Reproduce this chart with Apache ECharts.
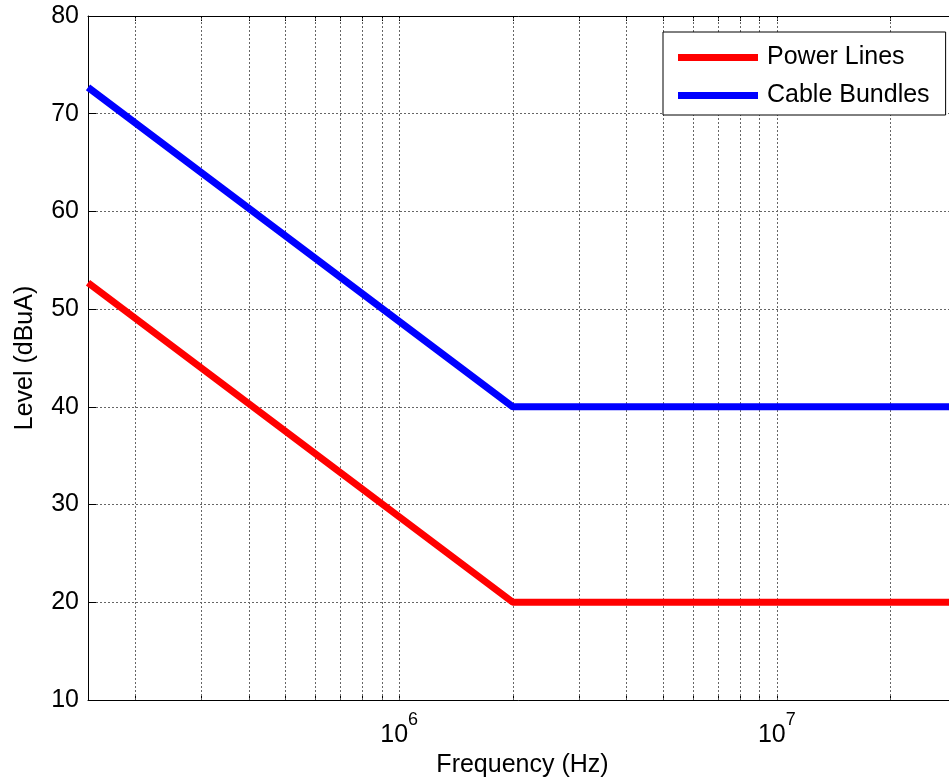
<!DOCTYPE html>
<html>
<head>
<meta charset="utf-8">
<script src="https://cdn.jsdelivr.net/npm/echarts@6/dist/echarts.min.js"></script>
<style>
html,body{margin:0;padding:0;background:#fff;}
#chart{width:949px;height:782px;}
</style>
</head>
<body>
<div id="chart"></div>
<script>
// ---- data ----
var seriesNames = ['Power Lines', 'Cable Bundles'];
var freqPower = [150000, 2000000, 30000000];
var levelPower = [52.7, 20, 20];
var freqCable = [150000, 2000000, 30000000];
var levelCable = [72.7, 40, 40];
var xMin = 150000, xMax = 30000000;
var yMin = 10, yMax = 80, yStep = 10;
var xMajorTicks = [1e6, 1e7];
var xGridValues = [2e5, 3e5, 4e5, 5e5, 6e5, 7e5, 8e5, 9e5, 1e6,
                   2e6, 3e6, 4e6, 5e6, 6e6, 7e6, 8e6, 9e6, 1e7, 2e7];

var FONT = '"Liberation Sans", Arial, Helvetica, sans-serif';

function pairs(xs, ys) { return xs.map(function (x, i) { return [x, ys[i]]; }); }

var chart = echarts.init(document.getElementById('chart'), null, {renderer: 'canvas'});

var gridLineStyle = {color: '#666', width: 1, type: [2, 2]};

var xAxisCommon = {
  type: 'log', logBase: 10, min: xMin, max: xMax,
  axisLine: {show: true, onZero: false, lineStyle: {color: '#000', width: 1}},
  axisTick: {show: true, inside: true, length: 5, customValues: xGridValues,
             lineStyle: {color: '#000', width: 1}},
  splitLine: {show: false}, minorTick: {show: false}, minorSplitLine: {show: false}
};

var option = {
  animation: false,
  backgroundColor: '#fff',
  textStyle: {fontFamily: FONT, color: '#000'},
  grid: {left: 88, top: 16, width: 869, height: 684, containLabel: false, outerBoundsMode: 'none'},
  legend: {
    orient: 'vertical', left: 663, top: 32,
    data: seriesNames,
    icon: 'rect', itemWidth: 80, itemHeight: 7, itemGap: 13,
    padding: [13, 16, 7, 15],
    backgroundColor: '#fff', borderColor: '#000', borderWidth: 1, borderRadius: 0,
    textStyle: {fontFamily: FONT, fontSize: 25, color: '#000', padding: [0, 0, 0, 4]},
    selectedMode: false
  },
  xAxis: [
    Object.assign({}, xAxisCommon, {
      position: 'bottom',
      name: 'Frequency (Hz)', nameLocation: 'middle', nameGap: 41,
      nameTextStyle: {fontFamily: FONT, fontSize: 25, color: '#000'},
      axisLabel: {
        show: true, margin: 4, customValues: xMajorTicks,
        formatter: function (v) { return '{b|10}{s|' + Math.round(Math.log10(v)) + '}'; },
        rich: {
          b: {fontFamily: FONT, fontSize: 25, color: '#000', lineHeight: 44, verticalAlign: 'bottom'},
          s: {fontFamily: FONT, fontSize: 18, color: '#000', lineHeight: 20, verticalAlign: 'top', padding: [7, 0, 0, 0]}
        }
      }
    }),
    Object.assign({}, xAxisCommon, {position: 'top', axisLabel: {show: false}})
  ],
  yAxis: [
    {
      type: 'value', position: 'left', min: yMin, max: yMax, interval: yStep,
      name: 'Level (dBuA)', nameLocation: 'middle', nameGap: 50,
      nameTextStyle: {fontFamily: FONT, fontSize: 25, color: '#000'},
      axisLine: {show: true, lineStyle: {color: '#000', width: 1}},
      axisTick: {show: true, inside: true, length: 8, lineStyle: {color: '#000'}},
      axisLabel: {fontFamily: FONT, fontSize: 25, color: '#000', margin: 9},
      splitLine: {show: true, lineStyle: gridLineStyle}
    },
    {
      type: 'value', position: 'right', min: yMin, max: yMax, interval: yStep,
      axisLine: {show: true, lineStyle: {color: '#000', width: 1}},
      axisTick: {show: true, inside: true, length: 8, lineStyle: {color: '#000'}},
      axisLabel: {show: false},
      splitLine: {show: false}
    }
  ],
  series: [
    {
      name: '_grid', type: 'line', xAxisIndex: 0, yAxisIndex: 0, data: [], silent: true, z: 1,
      markLine: {
        silent: true, z: 1, symbol: ['none', 'none'], animation: false,
        label: {show: false}, emphasis: {disabled: true},
        lineStyle: gridLineStyle,
        data: xGridValues.map(function (v) { return {xAxis: v}; })
      }
    },
    {
      name: seriesNames[0], type: 'line', xAxisIndex: 0, yAxisIndex: 0, z: 5,
      data: pairs(freqPower, levelPower), showSymbol: false, symbol: 'none',
      color: '#ff0000', lineStyle: {color: '#ff0000', width: 7}
    },
    {
      name: seriesNames[1], type: 'line', xAxisIndex: 0, yAxisIndex: 0, z: 5,
      data: pairs(freqCable, levelCable), showSymbol: false, symbol: 'none',
      color: '#0000ff', lineStyle: {color: '#0000ff', width: 7}
    }
  ]
};
chart.setOption(option);
</script>
</body>
</html>
